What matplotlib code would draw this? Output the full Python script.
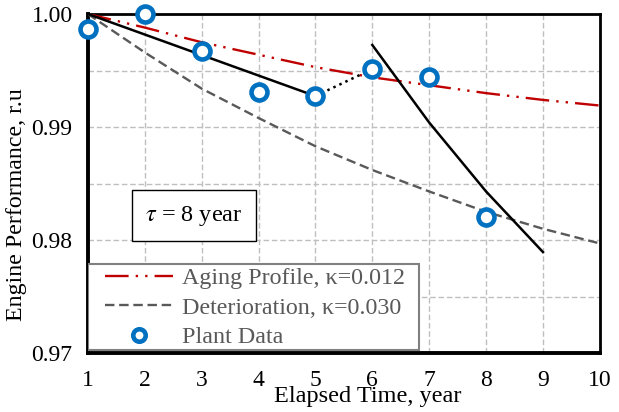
import numpy as np
import matplotlib
matplotlib.use('Agg')
import matplotlib.pyplot as plt
from matplotlib.patches import Rectangle

plt.rcParams['font.family'] = ['Liberation Serif', 'DejaVu Serif']
plt.rcParams['mathtext.fontset'] = 'stix'

#/// data
years = [1, 2, 3, 4, 5, 6, 7, 8, 9, 10]
aging = [1.0000, 0.9988, 0.9975, 0.9964, 0.9953, 0.9944, 0.9937, 0.9930, 0.9924, 0.9919]
deter = [1.0000, 0.9966, 0.9934, 0.9908, 0.9883, 0.9862, 0.9843, 0.9825, 0.9810, 0.9797]
plant_x = [1, 2, 3, 4, 5, 6, 7, 8]
plant_y = [0.99867, 1.0000, 0.99673, 0.99310, 0.99274, 0.99513, 0.99442, 0.98204]
fit1_x = [1, 5]
fit1_y = [1.0000, 0.99274]
gap_x = [5, 6]
gap_y = [0.99274, 0.99513]
fit2_x = [6, 7, 8, 9]
fit2_y = [0.99726, 0.99040, 0.98430, 0.97894]

fig = plt.figure(figsize=(6.19, 4.12), dpi=100)
ax = fig.add_axes([0.142, 0.143, 0.827, 0.823])

ax.plot(years, aging, color='#C00000', lw=1.7, ls=(0, (10, 3, 1, 3, 1, 3)),
        label='Aging Profile, \u03ba=0.012', zorder=3)
ax.plot(years, deter, color='#595959', lw=1.7, ls=(0, (4, 2)),
        label='Deterioration, \u03ba=0.030', zorder=3)
ax.plot(fit1_x, fit1_y, color='black', lw=1.8, zorder=4)
ax.plot(gap_x, gap_y, color='black', lw=1.8, ls=':', zorder=4)
ax.plot(fit2_x, fit2_y, color='black', lw=1.8, zorder=4)
ax.plot(plant_x, plant_y, ls='none', marker='o', ms=11.5, mew=3.3,
        mfc='white', mec='#0070C0', label='Plant Data', zorder=5, clip_on=False)

ax.set_xlim(1, 10)
ax.set_ylim(0.97, 1.0)
ax.set_xticks(range(1, 11))
ax.set_yticks([0.97, 0.98, 0.99, 1.00])
ax.set_yticklabels(['0.97', '0.98', '0.99', '1.00'])
ax.set_yticks(np.arange(0.97, 1.0, 0.005), minor=True)
ax.grid(True, which='both', color='#BFBFBF', ls=(0, (4, 2)), lw=1.0)
ax.tick_params(which='both', length=0, labelsize=17, colors='black')
ax.tick_params(axis='y', pad=11)
ax.tick_params(axis='x', pad=12)
for s in ax.spines.values():
    s.set_linewidth(2.0)
ax.spines['left'].set_linewidth(2.8)
ax.spines['bottom'].set_linewidth(2.8)

ax.set_xlabel('Elapsed Time, year', fontsize=17.5)
ax.xaxis.set_label_coords(0.547, -0.098)
ax.set_ylabel('Engine Performance, r.u', fontsize=17.2)
ax.yaxis.set_label_coords(-0.119, 0.437)

ax.text(0.207, 0.405, r'$\tau$ = 8 year', transform=ax.transAxes, fontsize=17.5,
        ha='center', va='center', zorder=6,
        bbox=dict(boxstyle='square,pad=0.55', fc='white', ec='black', lw=1.0))

# legend frame drawn by hand so the handles can sit inset like the original
ax.add_patch(Rectangle((0.0, 0.009), 0.646, 0.2535, transform=ax.transAxes,
                       fc='white', ec='#808080', lw=1.5, zorder=6))
leg = ax.legend(loc='center left', bbox_to_anchor=(0.033, 0.133),
                borderaxespad=0, borderpad=0, fontsize=17.3, handlelength=2.85,
                labelspacing=0.32, handletextpad=0.37, markerscale=0.78,
                frameon=False)
leg.set_zorder(7)
for t in leg.get_texts():
    t.set_color('#595959')

fig.savefig('out.png', dpi=100)
